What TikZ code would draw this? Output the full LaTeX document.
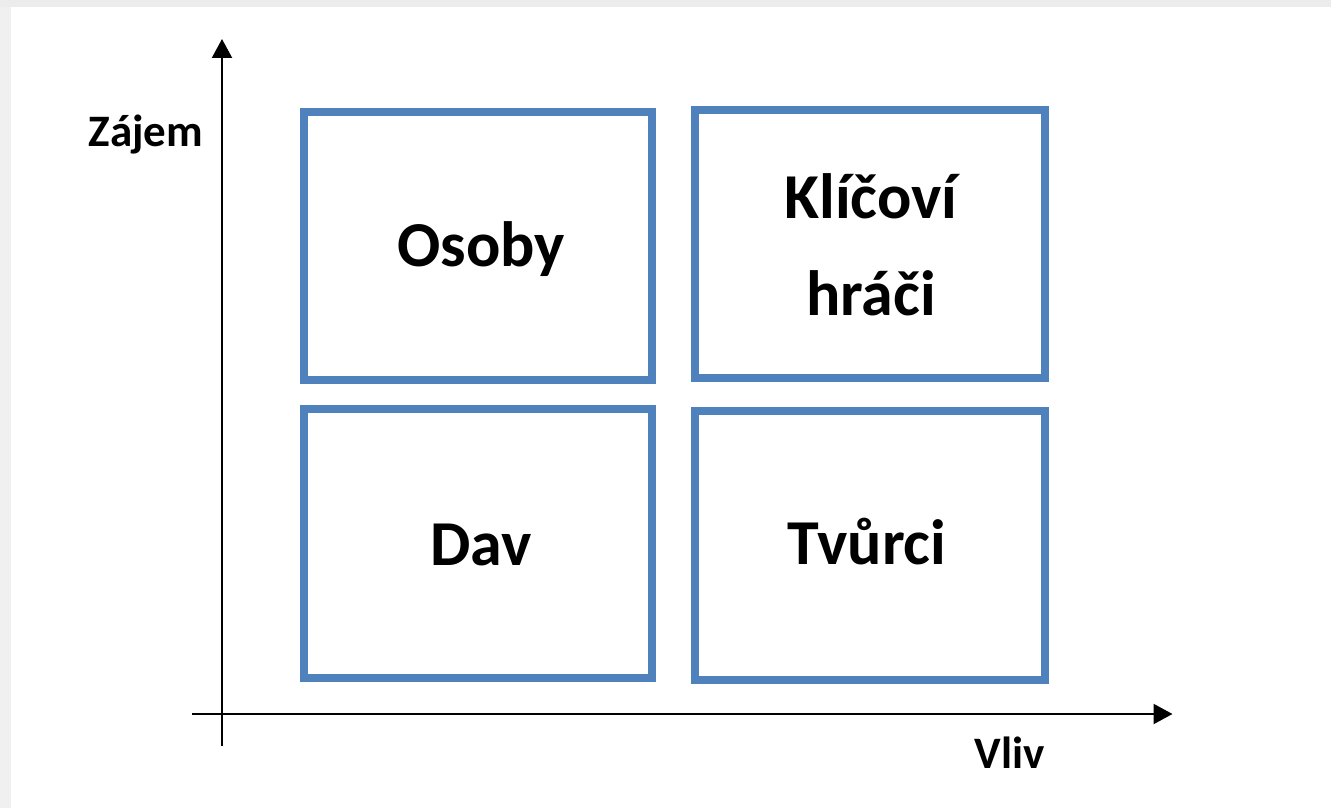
\documentclass[tikz,border=0pt]{standalone}
\usepackage{fontspec}
\setmainfont{Carlito}
\usetikzlibrary{arrows.meta}
\definecolor{quadblue}{HTML}{4F81BD}
\definecolor{frameA}{HTML}{ECECEC}
\definecolor{frameB}{HTML}{F0F0F0}
\tikzset{
  quad/.style={draw=quadblue, line width=8pt, rectangle, inner sep=0pt, outer sep=0pt},
  quadtext/.style={font=\bfseries\fontsize{64}{97}\selectfont, anchor=base, inner sep=0pt, align=center},
  axislabel/.style={font=\bfseries\fontsize{45}{54}\selectfont, anchor=base, inner sep=0pt},
  axisline/.style={line width=2.2pt, -{Triangle[length=19pt,width=20pt]}}
}
\begin{document}
\begin{tikzpicture}[x=1pt,y=-1pt]
  % page background with thin grey frame at top and left
  \fill[white] (0,0) rectangle (1331,808);
  \fill[frameA] (0,0) rectangle (1331,7);
  \fill[frameB] (0,7) rectangle (11,808);
  \useasboundingbox (0,0) rectangle (1331,808);

  % axes
  \coordinate (ybot) at (222,746);
  \coordinate (ytop) at (222,39);
  \coordinate (xleft) at (192,714);
  \coordinate (xright) at (1172.5,714);
  \draw[axisline] (ybot) -- (ytop);
  \draw[axisline] (xleft) -- (xright);
  \node[axislabel] (zajem) at (146,146) {Zájem};
  \node[axislabel] (vliv) at (1009.5,768) {Vliv};

  % quadrants
  \node[quad, minimum width=348pt, minimum height=268pt] (osoby) at (478,246) {};
  \node[quad, minimum width=350pt, minimum height=268pt] (klicovi) at (870,244) {};
  \node[quad, minimum width=348pt, minimum height=269pt] (dav) at (478,543.5) {};
  \node[quad, minimum width=350pt, minimum height=269pt] (tvurci) at (870,545.5) {};

  % quadrant labels
  \node[quadtext] (tosoby) at (481,266) {Osoby};
  \node[quadtext] (tklicovi1) at (871,218) {Klíčoví};
  \node[quadtext] (tklicovi2) at (871,315) {hráči};
  \node[quadtext] (tdav) at (481,565) {Dav};
  \node[quadtext] (ttvurci) at (867,564) {Tvůrci};
\end{tikzpicture}
\end{document}
